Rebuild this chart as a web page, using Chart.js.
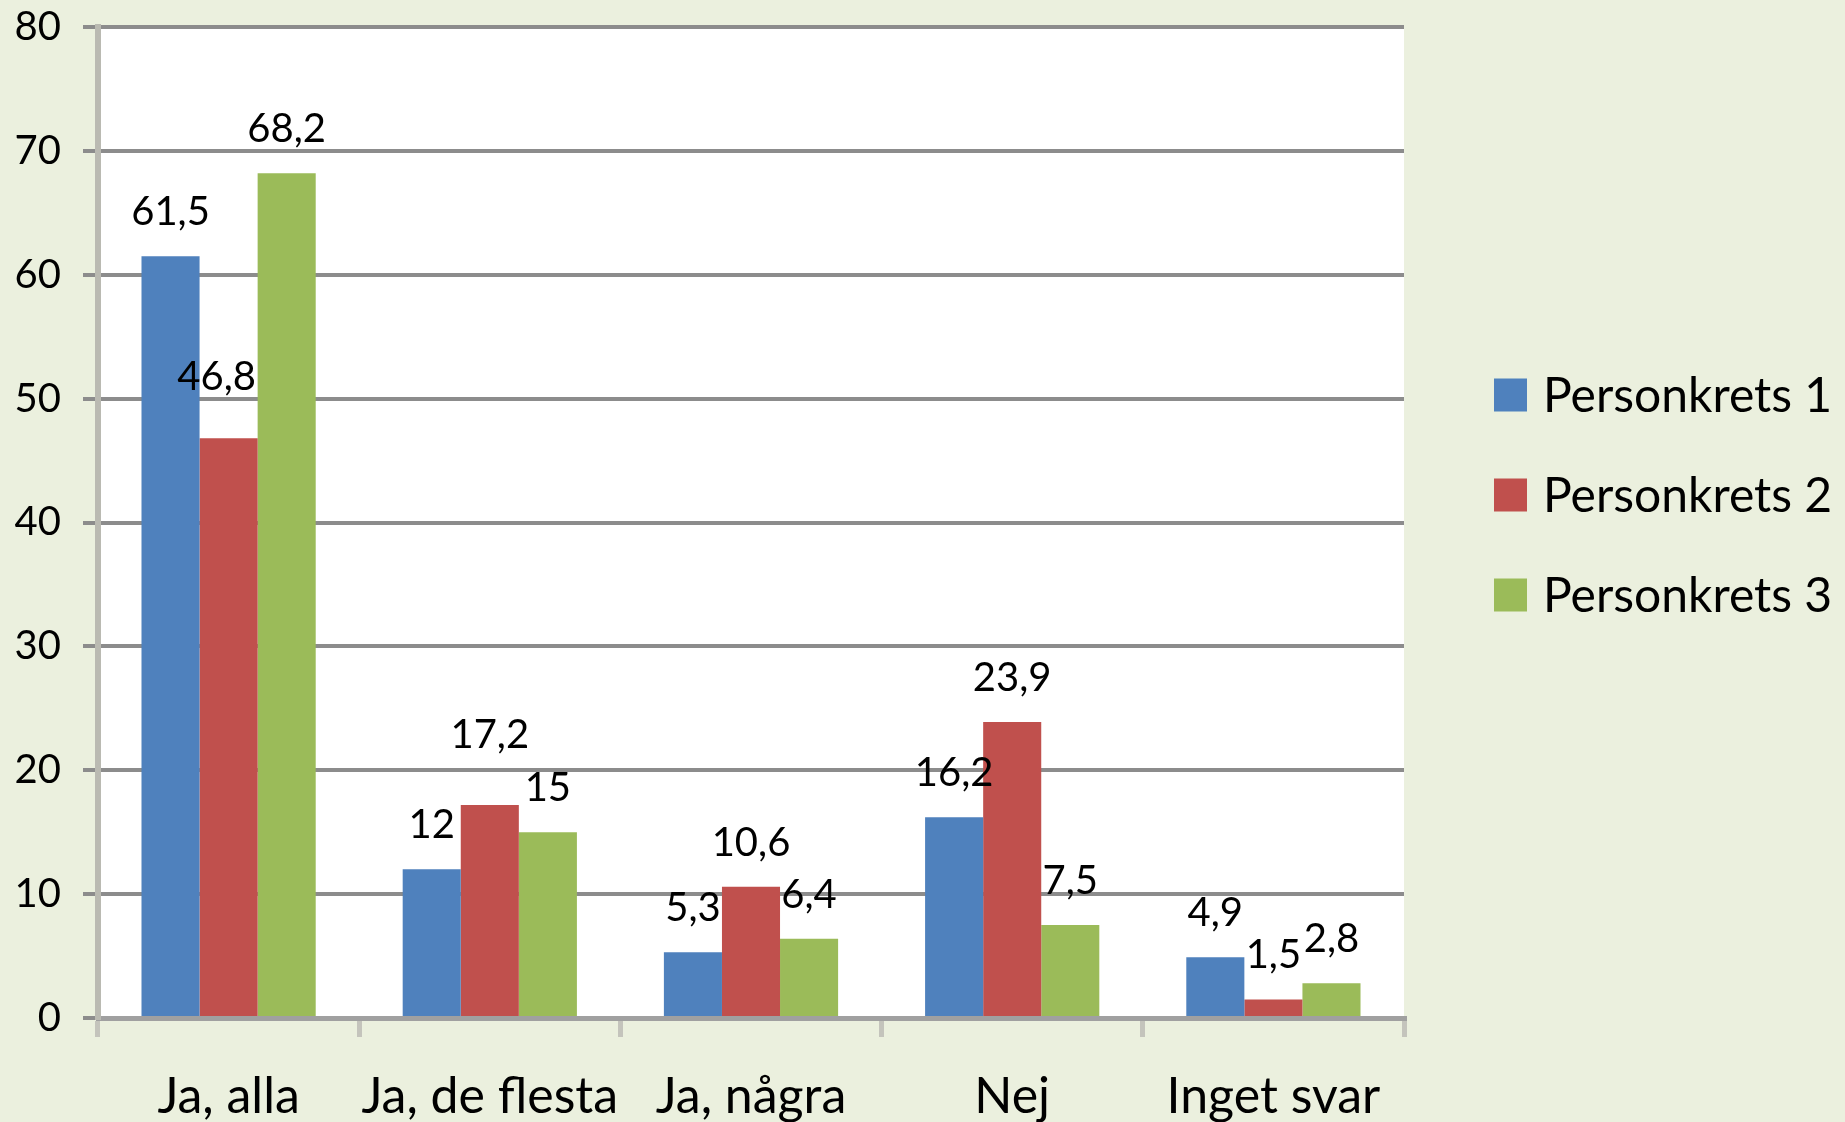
<!DOCTYPE html>
<html>
<head>
<meta charset="utf-8">
<title>Personkrets</title>
<script src="https://cdn.jsdelivr.net/npm/chart.js@4/dist/chart.umd.min.js"></script>
<style>
    html, body { margin: 0; padding: 0; background: #EBF0DE; }
    canvas { display: block; }
</style>
</head>
<body>
<canvas id="personChart" width="1845" height="1122"></canvas>
<script>
// data
const categories = ['Ja, alla', 'Ja, de flesta', 'Ja, några', 'Nej', 'Inget svar'];
const seriesNames = ['Personkrets 1', 'Personkrets 2', 'Personkrets 3'];
const personkrets1 = [61.5, 12, 5.3, 16.2, 4.9];
const personkrets2 = [46.8, 17.2, 10.6, 23.9, 1.5];
const personkrets3 = [68.2, 15, 6.4, 7.5, 2.8];
const yTicks = [0, 10, 20, 30, 40, 50, 60, 70, 80];

const colors = ['#4F81BD', '#C0504D', '#9BBB59'];
const fontName = 'Lato, "Open Sans", sans-serif';

// white plot area on the beige background
const plotBackground = {
    id: 'plotBackground',
    beforeDraw(chart) {
        const ctx = chart.ctx;
        const a = chart.chartArea;
        ctx.save();
        ctx.fillStyle = '#EBF0DE';
        ctx.fillRect(0, 0, chart.width, chart.height);
        ctx.fillStyle = '#FFFFFF';
        ctx.fillRect(a.left, a.top, a.right - a.left, a.bottom - a.top);
        ctx.restore();
    }
};

// value labels above the bars, comma as decimal sign
const valueLabels = {
    id: 'valueLabels',
    afterDatasetsDraw(chart, args, opts) {
        const ctx = chart.ctx;
        ctx.save();
        ctx.font = opts.size + 'px ' + fontName;
        ctx.fillStyle = '#000000';
        ctx.textAlign = 'center';
        ctx.textBaseline = 'alphabetic';
        chart.data.datasets.forEach((ds, i) => {
            const meta = chart.getDatasetMeta(i);
            meta.data.forEach((bar, j) => {
                const shift = opts.shift[i + '-' + j] || [0, 0];
                const text = String(ds.data[j]).replace('.', ',');
                ctx.fillText(text, bar.x + shift[0], bar.y - opts.gap + shift[1]);
            });
        });
        ctx.restore();
    }
};

// legend on the right side
const sideLegend = {
    id: 'sideLegend',
    afterDraw(chart, args, opts) {
        const ctx = chart.ctx;
        ctx.save();
        ctx.font = opts.size + 'px ' + fontName;
        ctx.textBaseline = 'middle';
        ctx.textAlign = 'left';
        chart.data.datasets.forEach((ds, i) => {
            const y = opts.top + i * opts.step;
            ctx.fillStyle = ds.backgroundColor;
            ctx.fillRect(opts.x, y - opts.box / 2, opts.box, opts.box);
            ctx.fillStyle = '#000000';
            ctx.fillText(ds.label, opts.x + opts.box + 16, y + 2);
        });
        ctx.restore();
    }
};

function buildDatasets() {
    const values = [personkrets1, personkrets2, personkrets3];
    return values.map((v, i) => ({
        label: seriesNames[i],
        data: v,
        backgroundColor: colors[i],
        borderWidth: 0,
        categoryPercentage: 0.667,
        barPercentage: 1.0
    }));
}

function renderChart() {
    const ctx = document.getElementById('personChart').getContext('2d');
    new Chart(ctx, {
        type: 'bar',
        data: {
            labels: categories,
            datasets: buildDatasets()
        },
        options: {
            responsive: false,
            animation: false,
            devicePixelRatio: 1,
            layout: {
                padding: { top: 0, right: 441, bottom: 0, left: 0 }
            },
            scales: {
                x: {
                    grid: {
                        drawOnChartArea: false,
                        tickLength: 19,
                        color: '#C4C4BC',
                        lineWidth: 5,
                        offset: true
                    },
                    border: { color: '#A0A0A0', width: 5 },
                    ticks: {
                        color: '#000000',
                        padding: 30,
                        maxRotation: 0,
                        autoSkip: false,
                        font: { family: fontName, size: 50 }
                    },
                    afterFit(scale) { scale.height = 104; }
                },
                y: {
                    min: 0,
                    max: 80,
                    afterBuildTicks(scale) {
                        scale.ticks = yTicks.map(v => ({ value: v }));
                    },
                    grid: {
                        color: '#8C8C8C',
                        lineWidth: 4,
                        tickLength: 15
                    },
                    border: { color: '#BABAB2', width: 6 },
                    ticks: {
                        color: '#000000',
                        padding: 22,
                        font: { family: fontName, size: 40 }
                    },
                    afterFit(scale) {
                        scale.width = 98;
                        scale.paddingTop = 27;
                    }
                }
            },
            plugins: {
                legend: { display: false },
                tooltip: { enabled: false },
                valueLabels: {
                    size: 40,
                    gap: 31,
                    shift: { '1-0': [-12, -17], '1-1': [0, -26] }
                },
                sideLegend: {
                    x: 1494,
                    top: 395,
                    step: 100,
                    box: 33,
                    size: 48
                }
            }
        },
        plugins: [plotBackground, valueLabels, sideLegend]
    });
}

renderChart();
</script>
</body>
</html>
